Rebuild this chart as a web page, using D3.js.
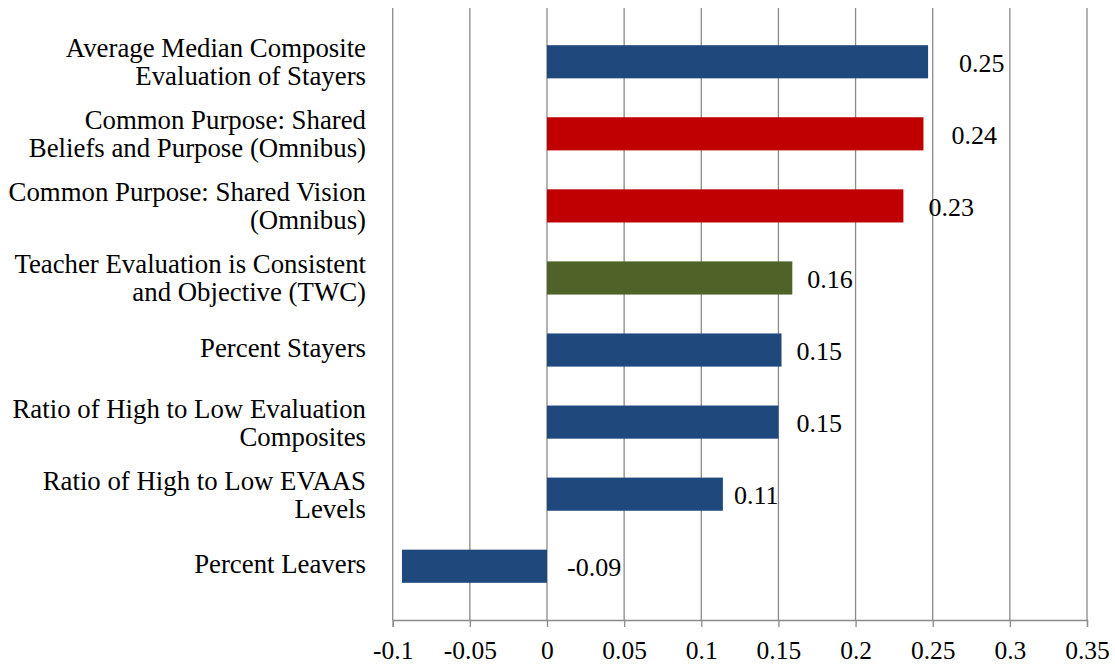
<!DOCTYPE html>
<html>
<head>
<meta charset="utf-8">
<script src="https://cdn.jsdelivr.net/npm/d3@7"></script>
<style>
  html, body { margin: 0; padding: 0; background: #fff; }
  svg { display: block; }
  text { font-family: "Liberation Serif", "Times New Roman", serif; fill: #000; }
</style>
</head>
<body>
<svg id="chart" width="1115" height="664"></svg>
<script>
// Measures, top to bottom; each label is split into its display lines
const categories = [
  ["Average Median Composite", "Evaluation of Stayers"],
  ["Common Purpose: Shared", "Beliefs and Purpose (Omnibus)"],
  ["Common Purpose: Shared Vision", "(Omnibus)"],
  ["Teacher Evaluation is Consistent", "and Objective (TWC)"],
  ["Percent Stayers"],
  ["Ratio of High to Low Evaluation", "Composites"],
  ["Ratio of High to Low EVAAS", "Levels"],
  ["Percent Leavers"]
];
const values = [0.247, 0.244, 0.231, 0.159, 0.152, 0.150, 0.114, -0.094];
const groups = ["outcome", "omnibus", "omnibus", "twc", "outcome", "outcome", "outcome", "outcome"];
const tickValues = [-0.1, -0.05, 0, 0.05, 0.1, 0.15, 0.2, 0.25, 0.3, 0.35];

const groupColor = { outcome: "#1F497D", omnibus: "#C00000", twc: "#4F6228" };
// horizontal nudge (px) of each value label away from its bar end
const labelGap = [31, 28, 25, 15, 15, 18, 11, 20];

const svg = d3.select("#chart");
const plotTop = 8, plotBottom = 620;
const hyphen = s => s.replace("\u2212", "-");

const x = d3.scaleLinear().domain([-0.1, 0.35]).range([392.7, 1087]);
const keys = categories.map((d, i) => i);
const y = d3.scaleBand().domain(keys).range([plotTop, plotBottom])
  .paddingInner(0.54).paddingOuter(0.516);

// vertical gridlines
svg.append("g").selectAll("line").data(tickValues).join("line")
  .attr("x1", d => x(d)).attr("x2", d => x(d))
  .attr("y1", plotTop).attr("y2", plotBottom)
  .attr("stroke", "#8a8a8a").attr("stroke-width", 1.3);

// value axis along the bottom
const axis = svg.append("g").attr("transform", `translate(0,${plotBottom})`)
  .call(d3.axisBottom(x).tickValues(tickValues).tickSize(7).tickPadding(8)
    .tickFormat(d => hyphen(d3.format("")(+d.toFixed(2)))));
axis.select(".domain").attr("stroke", "#8a8a8a").attr("stroke-width", 1.3);
axis.selectAll(".tick line").attr("stroke", "#8a8a8a").attr("stroke-width", 1.3);
axis.selectAll(".tick text")
  .attr("font-family", "Liberation Serif, Times New Roman, serif")
  .attr("font-size", 25.5).attr("fill", "#000")
  .attr("dy", null).attr("y", 39);

// bars
svg.append("g").selectAll("rect").data(values).join("rect")
  .attr("x", d => x(Math.min(0, d)))
  .attr("width", d => Math.abs(x(d) - x(0)))
  .attr("y", (d, i) => y(i))
  .attr("height", y.bandwidth())
  .attr("fill", (d, i) => groupColor[groups[i]]);

// value labels
const fmt = d3.format(".2f");
svg.append("g").selectAll("text").data(values).join("text")
  .attr("x", (d, i) => x(Math.max(0, d)) + labelGap[i])
  .attr("y", (d, i) => y(i) + y.bandwidth() / 2 + 10)
  .attr("font-size", 26)
  .text(d => hyphen(fmt(d)));

// category labels, right aligned beside the plot
const lineH = 28;
const cat = svg.append("g").selectAll("text").data(categories).join("text")
  .attr("text-anchor", "end")
  .attr("font-size", 26.8);
cat.each(function(lines, i) {
  const n = lines.length;
  const cy = y(i) + y.bandwidth() / 2;
  d3.select(this).selectAll("tspan").data(lines).join("tspan")
    .attr("x", 366)
    .attr("y", (l, j) => cy + 7 + (n - 1) * 2.5 + (j - (n - 1) / 2) * lineH)
    .text(l => l);
});
</script>
</body>
</html>
